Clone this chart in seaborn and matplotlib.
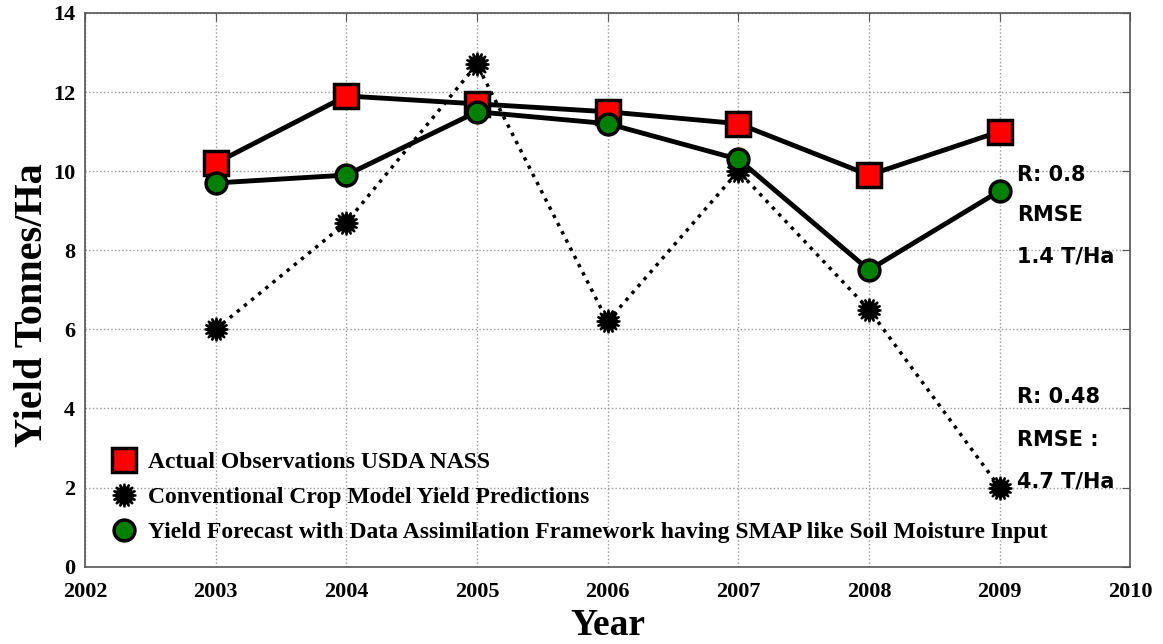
import matplotlib
matplotlib.use("Agg")
import matplotlib.pyplot as plt
import seaborn as sns
import numpy as np

years = [2003, 2004, 2005, 2006, 2007, 2008, 2009]
actual = [10.2, 11.9, 11.7, 11.5, 11.2, 9.9, 11.0]
conventional = [6.0, 8.7, 12.7, 6.2, 10.0, 6.5, 2.0]
assimilated = [9.7, 9.9, 11.5, 11.2, 10.3, 7.5, 9.5]
labels = ["Actual Observations USDA NASS",
          "Conventional Crop Model Yield Predictions",
          "Yield Forecast with Data Assimilation Framework having SMAP like Soil Moisture Input"]
xticks = [2002, 2003, 2004, 2005, 2006, 2007, 2008, 2009, 2010]
yticks = [0, 2, 4, 6, 8, 10, 12, 14]

sns.set_style("white")
plt.rcParams['font.family'] = ['Liberation Serif', 'DejaVu Serif']
plt.rcParams['text.color'] = 'black'
plt.rcParams['axes.labelcolor'] = 'black'
plt.rcParams['xtick.color'] = 'black'
plt.rcParams['ytick.color'] = 'black'

fig = plt.figure(figsize=(11.63, 6.44), dpi=100)
ax = fig.add_axes([0.073, 0.12, 0.899, 0.86])

sns.lineplot(x=years, y=actual, ax=ax, color='black', lw=3.5, marker='s',
             markersize=17, markerfacecolor='red', markeredgecolor='black',
             markeredgewidth=2.5, label=labels[0], zorder=3)
sns.lineplot(x=years, y=conventional, ax=ax, color='black', lw=2.5, linestyle=':',
             marker=(16, 1, 0), markersize=17, markerfacecolor='black',
             markeredgecolor='black', markeredgewidth=1.5, label=labels[1], zorder=2)
sns.lineplot(x=years, y=assimilated, ax=ax, color='black', lw=3.5, marker='o',
             markersize=15, markerfacecolor='green', markeredgecolor='black',
             markeredgewidth=2.5, label=labels[2], zorder=4)

ax.set_xlim(2002, 2010)
ax.set_ylim(0, 14)
ax.set_xticks(xticks)
ax.set_yticks(yticks)
ax.set_xticklabels([str(t) for t in xticks], fontsize=16, fontweight='bold', color='black')
ax.set_yticklabels([str(t) for t in yticks], fontsize=16, fontweight='bold', color='black')
ax.grid(True, linestyle=':', color='#999999', lw=1)
ax.tick_params(direction='in', length=6, color='#555555', labelcolor='black',
               top=True, right=True)
ax.tick_params(axis='x', pad=11)
ax.tick_params(axis='y', pad=7)
for s in ax.spines.values():
    s.set_color('#555555')
    s.set_linewidth(1.2)

ax.set_xlabel("Year", fontsize=27, fontweight='bold', color='black')
ax.set_ylabel("Yield Tonnes/Ha", fontsize=29, fontweight='bold', color='black')
ax.xaxis.label.set_va('bottom')
ax.xaxis.set_label_coords(0.5, -0.137)
ax.yaxis.label.set_va('center')
ax.yaxis.set_label_coords(-0.05, 0.473)

ann = dict(fontsize=15, fontweight='bold', family='DejaVu Sans', va='center',
           ha='left', color='black')
ax.text(2009.13, 9.9, "R: 0.8", **ann)
ax.text(2009.13, 8.9, "RMSE", **ann)
ax.text(2009.13, 7.85, "1.4 T/Ha", **ann)
ax.text(2009.13, 4.3, "R: 0.48", **ann)
ax.text(2009.13, 3.2, "RMSE :", **ann)
ax.text(2009.13, 2.15, "4.7 T/Ha", **ann)

leg = ax.legend(loc='lower left', bbox_to_anchor=(0.008, 0.004), frameon=False,
                prop={'family': 'Liberation Serif', 'weight': 'bold', 'size': 17},
                handlelength=0.8, handletextpad=0.6, labelspacing=0.57)
for t in leg.get_texts():
    t.set_color('black')
for h in leg.legend_handles:
    h.set_linestyle('None')

fig.savefig("out.png", dpi=100)
